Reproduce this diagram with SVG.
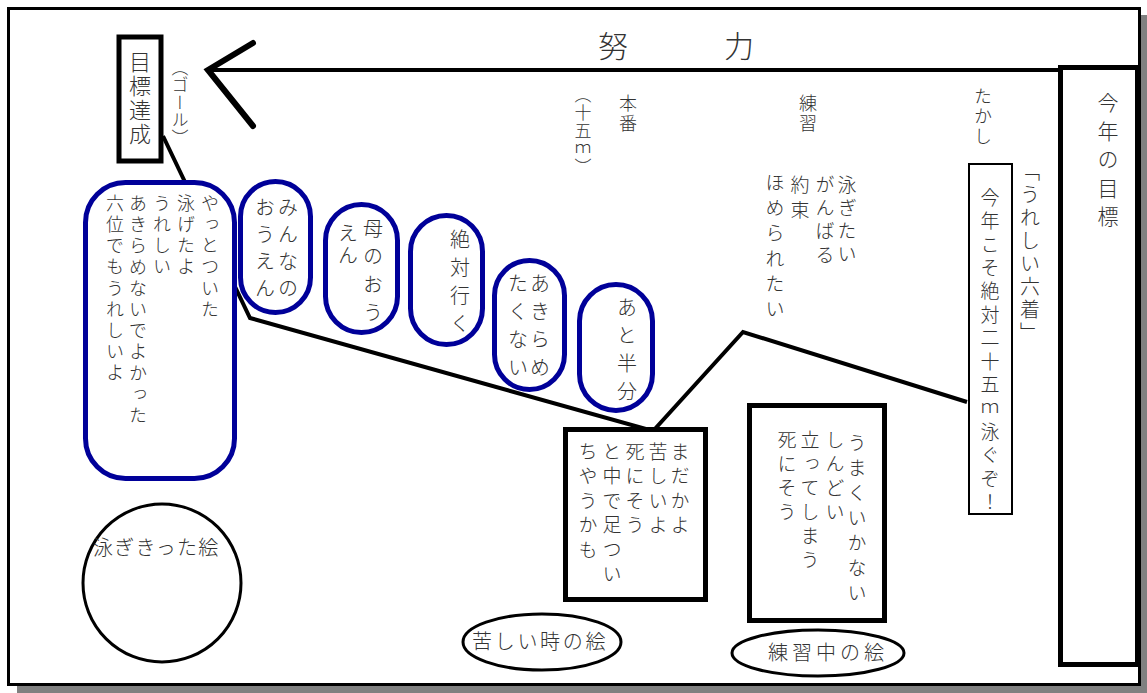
<svg xmlns="http://www.w3.org/2000/svg" width="1147" height="693" viewBox="0 0 1147 693">
<defs>
<style>
.t{font-family:"Noto Sans CJK JP","Noto Sans CJK SC",sans-serif;fill:#333;font-weight:300;}
.v{writing-mode:vertical-rl;}
.blue{fill:#fff;stroke:#000099;stroke-width:5;}
.box{fill:#fff;stroke:#000;stroke-width:5;}
.thin{fill:#fff;stroke:#000;stroke-width:3;}
.con{fill:none;stroke:#000;stroke-width:4;}
</style>
<marker id="vhead" markerUnits="userSpaceOnUse" orient="auto" overflow="visible" refX="0" refY="0">
<path d="M-45,27 L0,0 L-45,-56" fill="none" stroke="#000" stroke-width="6" stroke-linecap="round" stroke-linejoin="miter"/>
</marker>
</defs>
<rect width="1147" height="693" fill="#fff"/>
<g id="frame">
<rect x="17" y="15" width="1130" height="678" fill="#808080"/>
<rect x="8.5" y="8.5" width="1131" height="676" fill="#fff" stroke="#000" stroke-width="3"/>
</g>
<g id="connectors">
<line x1="1060" y1="70" x2="208" y2="70" stroke="#000" stroke-width="4" marker-end="url(#vhead)"/>
<polyline class="con" points="163,136 250,318 653,431 743,332 967,402"/>
</g>
<text class="t" x="598" y="57" font-size="30" letter-spacing="12">努　　力</text>
<g id="goal">
<rect class="box" x="119" y="37" width="42" height="124" stroke-width="4"/>
<text class="t v" x="140" y="51" font-size="22" letter-spacing="2">目標達成</text>
<text class="t v" x="180" y="59" font-size="17" letter-spacing="0.5">（ゴール）</text>
</g>
<g id="big">
<rect class="blue" x="85.5" y="182.5" width="149" height="296" rx="40"/>
<text class="t v" font-size="18" letter-spacing="3.2"><tspan x="210" y="194">やっとついた</tspan><tspan x="186" y="194">泳げたよ</tspan><tspan x="162" y="194">うれしい</tspan><tspan x="138" y="194">あきらめないでよかった</tspan><tspan x="115" y="194">六位でもうれしいよ</tspan></text>
</g>
<g id="oval1">
<rect class="blue" x="240.5" y="181.5" width="70" height="131" rx="35"/>
<text class="t v" font-size="20" letter-spacing="7"><tspan x="288" y="197">みんなの</tspan><tspan x="265" y="197">おうえん</tspan></text>
</g>
<g id="oval2">
<rect class="blue" x="325.5" y="204.5" width="72" height="128" rx="36"/>
<text class="t v" x="373" y="218" font-size="20" letter-spacing="8">母のおう</text>
<text class="t v" x="348" y="223" font-size="20" letter-spacing="2">えん</text>
</g>
<g id="oval3">
<rect class="blue" x="410.5" y="215.5" width="72" height="129" rx="36"/>
<text class="t v" x="460" y="229" font-size="20" letter-spacing="8">絶対行く</text>
</g>
<g id="oval4">
<rect class="blue" x="494.5" y="260.5" width="70" height="129" rx="35"/>
<text class="t v" font-size="20" letter-spacing="8"><tspan x="540" y="273">あきらめ</tspan><tspan x="518" y="273">たくない</tspan></text>
</g>
<g id="oval5">
<rect class="blue" x="579.5" y="284.5" width="73" height="126" rx="36.5"/>
<text class="t v" x="627" y="297" font-size="20" letter-spacing="8">あと半分</text>
</g>
<g id="honban">
<text class="t v" x="628" y="94" font-size="18" letter-spacing="2">本番</text>
<text class="t v" x="583" y="86" font-size="17" letter-spacing="1">（十五ｍ）</text>
</g>
<g id="renshu">
<text class="t v" x="808" y="94" font-size="18" letter-spacing="2">練習</text>
<text class="t v" x="847" y="175" font-size="19" letter-spacing="4">泳ぎたい</text>
<text class="t v" x="825" y="175" font-size="19" letter-spacing="4.3">がんばる</text>
<text class="t v" x="800" y="175" font-size="19" letter-spacing="6">約束</text>
<text class="t v" x="775" y="173" font-size="19" letter-spacing="6.3">ほめられたい</text>
</g>
<g id="takashi">
<text class="t v" x="983" y="87" font-size="18" letter-spacing="2">たかし</text>
<text class="t v" x="1030" y="161" font-size="20" letter-spacing="3">「うれしい六着」</text>
<rect x="969" y="164" width="43" height="350" fill="#fff" stroke="#000" stroke-width="2"/>
<text class="t v" x="990" y="188" font-size="19" letter-spacing="4.4">今年こそ絶対二十五ｍ泳ぐぞ！</text>
</g>
<g id="mokuhyo">
<rect class="box" x="1060.5" y="67.5" width="77" height="597"/>
<text class="t v" x="1108" y="92" font-size="21" letter-spacing="7.5">今年の目標</text>
</g>
<g id="kurushii">
<rect class="box" x="565.5" y="429.5" width="140" height="170"/>
<text class="t v" font-size="19" letter-spacing="5.5"><tspan x="680" y="442">まだかよ</tspan><tspan x="658" y="442">苦しいよ</tspan><tspan x="635" y="442">死にそう</tspan><tspan x="612" y="442">と中で足つい</tspan><tspan x="588" y="442">ちやうかも</tspan></text>
</g>
<g id="renshuchu">
<rect class="box" x="749.5" y="405.5" width="135" height="215"/>
<text class="t v" x="857" y="433" font-size="19" letter-spacing="6">うまくいかない</text>
<text class="t v" font-size="19" letter-spacing="5"><tspan x="835" y="430">しんどい</tspan><tspan x="810" y="430">立ってしまう</tspan><tspan x="787" y="430">死にそう</tspan></text>
</g>
<g id="pic-oyogi">
<circle class="thin" cx="162" cy="583" r="79"/>
<text class="t" x="93" y="555" font-size="20" letter-spacing="1.2">泳ぎきった絵</text>
</g>
<g id="pic-kurushii">
<ellipse class="thin" cx="542" cy="642" rx="79" ry="28"/>
<text class="t" x="472" y="649" font-size="20" letter-spacing="2.7">苦しい時の絵</text>
</g>
<g id="pic-renshu">
<ellipse class="thin" cx="818" cy="653" rx="86" ry="23"/>
<text class="t" x="768" y="660" font-size="20" letter-spacing="4">練習中の絵</text>
</g>
</svg>
